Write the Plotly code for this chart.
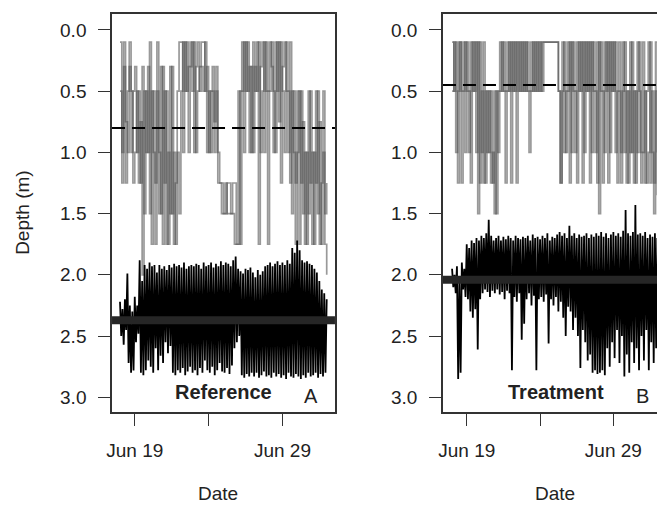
import pandas as pd
import plotly.graph_objects as go

# ---------------- data ----------------
start = "2013-06-18 00:00"
gray_times = pd.date_range(start, periods=113, freq="3h")
black_times = pd.date_range(start, periods=169, freq="2h")

# Reference (A): shallow (grey) tracks, depth in m
ref_gray1 = [
    0.1, 1.0, 0.3, 1.25, 0.5, 0.1, 1.0, 0.5,
    0.3, 1.0, 0.5, 1.25, 0.3, 1.5, 0.5, 1.0,
    0.1, 1.75, 0.5, 1.25, 0.1, 1.5, 0.3, 1.75,
    0.5, 1.75, 1.0, 1.5, 0.3, 1.75, 1.25, 0.5,
    0.1, 0.1, 1.0, 0.1, 0.5, 0.3, 0.1, 0.5,
    0.1, 1.0, 0.5, 0.3, 0.1, 0.1, 0.5, 0.3,
    1.0, 0.5, 0.3, 1.0, 0.5, 1.25, 1.25, 1.5,
    1.5, 1.5, 1.25, 1.25, 1.5, 1.5, 1.75, 1.75,
    1.75, 0.5, 0.1, 1.0, 0.1, 0.5, 0.3, 1.0,
    0.1, 0.5, 0.1, 1.75, 0.3, 0.1, 1.0, 0.1,
    0.5, 0.1, 0.3, 1.0, 0.1, 0.5, 0.1, 1.25,
    0.3, 0.1, 0.5, 1.0, 0.1, 1.5, 0.5, 1.25,
    0.5, 1.75, 0.5, 1.5, 1.0, 1.75, 0.5, 1.25,
    1.0, 1.75, 0.5, 1.5, 0.75, 1.75, 1.0, 1.5,
    1.25,
]
ref_gray2 = [
    0.5, 1.25, 0.1, 0.75, 1.0, 0.3, 0.5, 1.25,
    1.0, 0.5, 1.25, 0.75, 2.0, 0.5, 1.0, 0.3,
    1.5, 0.5, 1.0, 1.75, 0.5, 1.0, 1.5, 0.3,
    1.25, 0.5, 1.75, 0.3, 1.5, 1.0, 1.75, 1.0,
    1.5, 0.5, 0.1, 0.5, 0.1, 1.0, 0.3, 0.1,
    1.0, 0.3, 0.1, 0.5, 0.3, 0.5, 0.1, 1.0,
    0.5, 1.0, 0.5, 0.75, 0.3, 1.0, 1.25, 1.25,
    1.5, 1.25, 1.5, 1.5, 1.5, 1.25, 1.25, 1.75,
    0.5, 1.75, 0.5, 0.1, 0.5, 0.1, 1.0, 0.3,
    1.0, 0.3, 0.5, 0.1, 1.0, 0.5, 0.1, 0.5,
    1.75, 0.5, 0.1, 0.5, 1.0, 0.1, 0.75, 0.1,
    0.5, 1.0, 0.1, 0.5, 1.25, 0.5, 1.0, 1.75,
    1.0, 0.5, 1.25, 0.75, 1.75, 1.0, 1.5, 0.5,
    1.75, 1.0, 1.25, 0.5, 1.75, 1.25, 0.5, 1.75,
    2.0,
]
# Reference (A): deep (black) tracks
ref_black = [
    2.22, 2.50, 2.28, 2.57, 2.20, 2.45, 1.99, 2.72, 2.25, 2.80, 2.30, 2.78,
    2.18, 2.55, 2.25, 2.48, 1.88, 2.80, 2.05, 2.82, 1.92, 2.78, 1.95, 2.70,
    1.90, 2.75, 1.93, 2.80, 1.92, 2.60, 1.98, 2.78, 1.92, 2.66, 1.95, 2.72,
    1.93, 2.55, 1.96, 2.64, 1.92, 2.58, 1.94, 2.80, 1.91, 2.82, 1.93, 2.78,
    1.92, 2.80, 1.94, 2.76, 1.90, 2.82, 1.95, 2.79, 1.93, 2.75, 1.92, 2.80,
    1.93, 2.78, 1.91, 2.82, 1.92, 2.76, 1.95, 2.80, 1.90, 2.70, 1.93, 2.78,
    1.92, 2.80, 1.90, 2.75, 1.94, 2.82, 1.91, 2.78, 1.93, 2.72, 1.89, 2.79,
    1.92, 2.80, 1.90, 2.76, 1.91, 2.81, 1.93, 2.74, 1.88, 2.60, 1.85, 2.55,
    1.95, 2.50, 1.97, 2.82, 1.99, 2.84, 1.95, 2.81, 1.96, 2.83, 1.94, 2.80,
    1.98, 2.83, 2.02, 2.80, 1.96, 2.84, 2.00, 2.82, 1.97, 2.79, 1.93, 2.83,
    1.92, 2.82, 1.90, 2.84, 1.93, 2.80, 1.91, 2.83, 1.89, 2.81, 1.92, 2.84,
    1.90, 2.82, 1.92, 2.85, 1.88, 2.80, 1.91, 2.83, 1.78, 2.84, 1.82, 2.81,
    1.72, 2.83, 1.80, 2.85, 1.88, 2.82, 1.90, 2.84, 1.89, 2.80, 1.91, 2.83,
    1.92, 2.82, 1.95, 2.80, 1.98, 2.84, 2.05, 2.81, 2.12, 2.83, 2.15, 2.80,
    2.20,
]

# Treatment (B)
trt_gray1 = [
    0.1, 0.5, 0.1, 1.25, 0.1, 0.5, 0.1, 1.0,
    0.1, 0.5, 1.25, 0.1, 0.5, 0.1, 1.5, 0.1,
    1.0, 0.1, 1.25, 0.5, 1.0, 0.5, 1.25, 0.5,
    1.5, 0.5, 0.1, 0.5, 0.1, 0.5, 0.1, 0.5,
    0.1, 0.5, 0.1, 1.25, 0.1, 0.5, 0.1, 0.5,
    0.1, 0.5, 1.0, 0.5, 0.1, 0.5, 0.1, 0.5,
    0.1, 0.5, 0.1, 0.1, 0.1, 0.1, 0.1, 0.1,
    0.1, 0.1, 0.5, 1.25, 0.1, 1.0, 0.5, 0.1,
    1.25, 0.1, 0.5, 1.0, 0.1, 0.5, 0.1, 1.25,
    0.1, 0.5, 0.1, 1.25, 0.1, 0.5, 1.0, 0.1,
    1.5, 0.1, 0.5, 1.0, 0.1, 1.25, 0.1, 0.5,
    0.1, 1.0, 0.5, 0.1, 1.25, 0.1, 1.0, 0.5,
    1.25, 0.1, 1.0, 0.5, 1.25, 0.1, 0.5, 1.0,
    0.1, 1.25, 0.5, 0.1, 1.25, 0.5, 1.5, 0.1,
    1.35,
]
trt_gray2 = [
    0.5, 0.1, 1.0, 0.5, 0.1, 1.25, 0.5, 0.1,
    0.5, 1.0, 0.1, 0.5, 0.1, 1.0, 0.1, 1.25,
    0.5, 1.25, 0.5, 1.0, 0.5, 1.25, 1.0, 1.5,
    0.5, 1.0, 0.5, 0.1, 0.5, 1.25, 0.5, 0.1,
    1.25, 0.1, 0.5, 0.1, 0.5, 0.1, 0.5, 0.1,
    0.5, 0.1, 0.5, 0.1, 0.5, 0.1, 0.5, 0.1,
    0.5, 0.1, 0.1, 0.1, 0.1, 0.1, 0.1, 0.1,
    0.1, 0.1, 0.5, 1.25, 0.5, 0.1, 1.0, 0.5,
    0.1, 1.0, 0.1, 0.5, 1.25, 0.1, 0.5, 0.1,
    1.0, 0.1, 0.5, 0.1, 1.0, 0.1, 0.5, 1.25,
    0.1, 0.5, 1.25, 0.1, 0.5, 0.1, 1.0, 0.1,
    0.5, 0.1, 1.25, 0.5, 1.0, 0.5, 0.1, 1.25,
    0.5, 1.0, 0.1, 1.25, 0.5, 1.0, 0.1, 1.25,
    1.0, 0.5, 1.25, 1.0, 0.1, 1.0, 1.25, 0.5,
    1.0,
]
trt_black = [
    1.95, 2.10, 2.00, 2.15, 1.93, 2.85, 2.02, 2.80, 1.90, 2.12, 1.95, 2.18,
    1.75, 2.20, 1.78, 2.30, 1.72, 2.35, 1.74, 2.28, 1.70, 2.61, 1.72, 2.20,
    1.68, 2.15, 1.70, 2.12, 1.66, 2.14, 1.55, 2.18, 1.68, 2.13, 1.72, 2.15,
    1.70, 2.12, 1.68, 2.16, 1.72, 2.14, 1.69, 2.20, 1.71, 2.13, 1.68, 2.15,
    1.70, 2.78, 1.72, 2.18, 1.68, 2.22, 1.70, 2.15, 1.71, 2.53, 1.69, 2.40,
    1.70, 2.20, 1.68, 2.15, 1.72, 2.25, 1.67, 2.17, 1.70, 2.78, 1.69, 2.20,
    1.71, 2.18, 1.68, 2.22, 1.70, 2.16, 1.66, 2.56, 1.72, 2.20, 1.69, 2.25,
    1.70, 2.18, 1.67, 2.30, 1.65, 2.22, 1.68, 2.35, 1.66, 2.50, 1.70, 2.26,
    1.60, 2.30, 1.68, 2.45, 1.66, 2.35, 1.70, 2.50, 1.67, 2.76, 1.69, 2.45,
    1.68, 2.55, 1.66, 2.70, 1.70, 2.65, 1.67, 2.80, 1.69, 2.78, 1.66, 2.81,
    1.68, 2.80, 1.65, 2.78, 1.69, 2.82, 1.66, 2.60, 1.70, 2.75, 1.67, 2.55,
    1.65, 2.68, 1.68, 2.45, 1.66, 2.72, 1.69, 2.50, 1.64, 2.83, 1.47, 2.65,
    1.66, 2.80, 1.68, 2.55, 1.65, 2.72, 1.43, 2.60, 1.67, 2.78, 1.66, 2.50,
    1.68, 2.70, 1.65, 2.45, 1.70, 2.78, 1.67, 2.55, 1.69, 2.72, 1.66, 2.60,
    1.70,
]

# mean lines
ref_shallow_mean = 0.80
ref_deep_mean = 2.37
trt_shallow_mean = 0.45
trt_deep_mean = 2.04

panel_labels = ["Reference", "Treatment"]
panel_letters = ["A", "B"]
y_ticks = [0.0, 0.5, 1.0, 1.5, 2.0, 2.5, 3.0]
y_ticktext = ["0.0", "0.5", "1.0", "1.5", "2.0", "2.5", "3.0"]
x_ticks = ["2013-06-19", "2013-06-24", "2013-06-29"]
x_ticktext = ["Jun 19", "", "Jun 29"]

# ---------------- figure ----------------
W, H = 657, 506
FONT = "Liberation Sans, Arial, Helvetica, sans-serif"
GRAY = "rgba(80,80,80,0.58)"

fig = go.Figure()

def add_panel(xa, ya, g1, g2, blk):
    for g in (g1, g2):
        fig.add_trace(go.Scatter(x=gray_times, y=g, mode="lines", line=dict(color=GRAY, width=1.7, shape="hv"),
                                 xaxis=xa, yaxis=ya, showlegend=False, hoverinfo="skip"))
    fig.add_trace(go.Scatter(x=black_times, y=blk, mode="lines", line=dict(color="black", width=1.8),
                             xaxis=xa, yaxis=ya, showlegend=False, hoverinfo="skip"))

add_panel("x", "y", ref_gray1, ref_gray2, ref_black)
add_panel("x2", "y2", trt_gray1, trt_gray2, trt_black)

# mean lines
for xa, ya, sm, dm in (("x", "y", ref_shallow_mean, ref_deep_mean), ("x2", "y2", trt_shallow_mean, trt_deep_mean)):
    fig.add_shape(type="line", xref=f"{xa} domain", yref=ya, x0=0, x1=1, y0=dm, y1=dm,
                  line=dict(color="#262626", width=8))
    fig.add_shape(type="line", xref=f"{xa} domain", yref=ya, x0=0, x1=1, y0=sm, y1=sm,
                  line=dict(color="black", width=2, dash="13px,7px"))

ydom = [1 - 412 / H, 1 - 14 / H]
axis_common = dict(showline=True, linecolor="#333", linewidth=1.5, ticks="outside", ticklen=12, tickwidth=1.3,
                   tickcolor="#333", showgrid=False, zeroline=False,
                   tickfont=dict(family=FONT, size=19, color="#222"))

fig.update_layout(
    width=W, height=H, margin=dict(l=0, r=0, t=0, b=0),
    paper_bgcolor="white", plot_bgcolor="white",
    xaxis=dict(domain=[107 / W, 332 / W], anchor="y", type="date",
               range=["2013-06-17 11:02", "2013-07-02 13:26"], mirror=True,
               tickvals=x_ticks, ticktext=x_ticktext, ticklabelstandoff=8, **axis_common),
    yaxis=dict(domain=ydom, anchor="x", range=[3.12, -0.13], mirror=True,
               tickvals=y_ticks, ticktext=y_ticktext, ticklabelstandoff=8, **axis_common),
    xaxis2=dict(domain=[441 / W, 1.0], anchor="y2", type="date",
                range=["2013-06-17 09:07", "2013-07-01 23:24"], mirror=True,
                tickvals=x_ticks, ticktext=x_ticktext, ticklabelstandoff=8, **axis_common),
    yaxis2=dict(domain=ydom, anchor="x2", range=[3.12, -0.13], mirror=False,
                tickvals=y_ticks, ticktext=y_ticktext, ticklabelstandoff=8, **axis_common),
)

def ann(text, x, y, size=19, bold=False, angle=0, yanchor="middle"):
    fig.add_annotation(text=f"<b>{text}</b>" if bold else text, x=x / W, y=1 - y / H, xref="paper", yref="paper",
                       showarrow=False, xanchor="center", yanchor=yanchor, textangle=angle,
                       font=dict(family=FONT, size=size, color="#222"))

ann("Depth (m)", 16, 213, angle=-90)
ann("Date", 214, 506, yanchor="bottom")
ann("Date", 554, 506, yanchor="bottom")
ann(panel_labels[0], 220, 392, size=20, bold=True)
ann(panel_letters[0], 308, 396, size=20)
ann(panel_labels[1], 555, 392, size=20, bold=True)
ann(panel_letters[1], 642, 396, size=20)

fig.write_html("out.html", config={"displayModeBar": False},
               post_script="document.body.style.margin='0px';document.body.style.overflow='hidden';")
